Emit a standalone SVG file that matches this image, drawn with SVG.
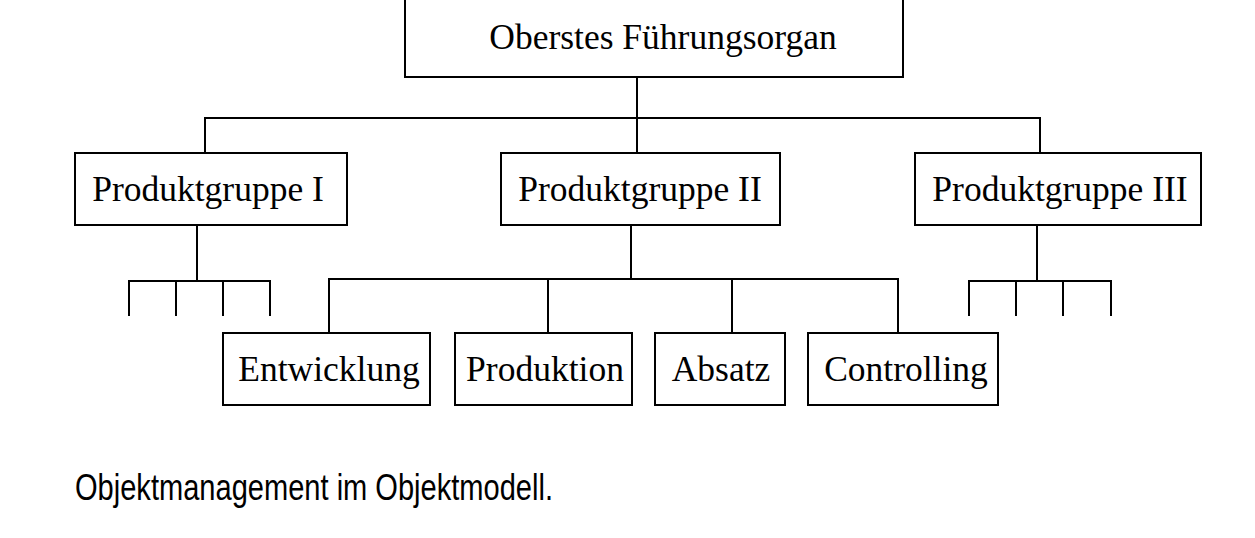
<svg xmlns="http://www.w3.org/2000/svg" width="1255" height="538" viewBox="0 0 1255 538">
<style>
.box{fill:#fff;stroke:#000;stroke-width:2}
.lbl{font-family:"Liberation Serif","Times New Roman",serif;font-size:35.5px;fill:#000;text-anchor:middle}
.con{stroke:#000;stroke-width:2;fill:none}
.cap{font-family:"Liberation Sans",Arial,sans-serif;font-size:37px;fill:#000}
</style>
<rect width="1255" height="538" fill="#fff"/>
<g id="connectors">
<path class="con" d="M637,77V153M205,153V118H1040V153"/>
<path class="con" d="M197,225V281M129,316V281H270V316M176,281V316M223,281V316"/>
<path class="con" d="M631,225V279M329,333V279H898V333M548,279V333M732,279V333"/>
<path class="con" d="M1037,225V281M969,316V281H1111V316M1016,281V316M1063,281V316"/>
</g>
<g id="top"><rect class="box" x="405" y="-2" width="498" height="79"/><text class="lbl" x="663" y="49">Oberstes Führungsorgan</text></g>
<g id="pg1"><rect class="box" x="75" y="153" width="272" height="72"/><text class="lbl" x="208" y="201">Produktgruppe I</text></g>
<g id="pg2"><rect class="box" x="501" y="153" width="279" height="72"/><text class="lbl" x="640" y="201">Produktgruppe II</text></g>
<g id="pg3"><rect class="box" x="915" y="153" width="286" height="72"/><text class="lbl" x="1060" y="201">Produktgruppe III</text></g>
<g id="entwicklung"><rect class="box" x="223" y="333" width="207" height="72"/><text class="lbl" x="329" y="381">Entwicklung</text></g>
<g id="produktion"><rect class="box" x="455" y="333" width="177" height="72"/><text class="lbl" x="545" y="381">Produktion</text></g>
<g id="absatz"><rect class="box" x="655" y="333" width="130" height="72"/><text class="lbl" x="721" y="381">Absatz</text></g>
<g id="controlling"><rect class="box" x="808" y="333" width="190" height="72"/><text class="lbl" x="906" y="381">Controlling</text></g>
<text class="cap" x="75" y="500" textLength="478" lengthAdjust="spacingAndGlyphs">Objektmanagement im Objektmodell.</text>
</svg>
